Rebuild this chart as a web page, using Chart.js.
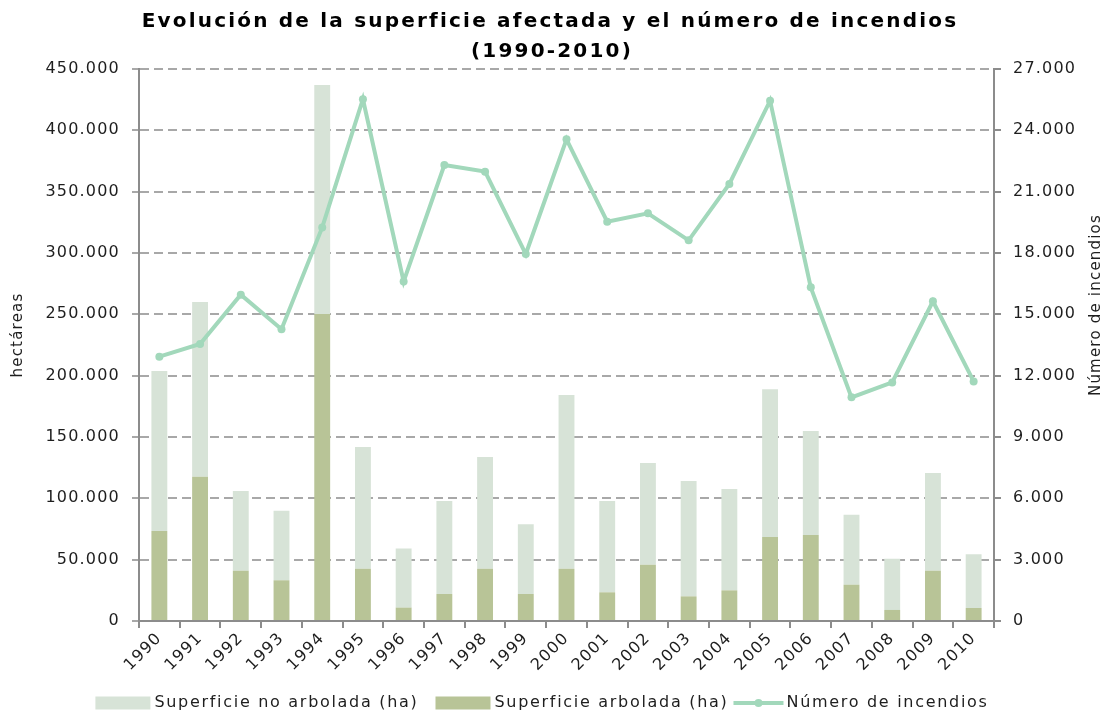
<!DOCTYPE html>
<html><head><meta charset="utf-8">
<script src="https://cdn.jsdelivr.net/npm/chart.js@4.4.1/dist/chart.umd.min.js"></script>
<style>html,body{margin:0;padding:0;background:#fff;}#wrap{width:1107px;height:715px;position:relative;}</style>
</head><body><div id="wrap"><canvas id="c"></canvas></div>
<script>
const titleLines = ['Evolución de la superficie afectada y el número de incendios', '(1990-2010)'];
const years = ['1990','1991','1992','1993','1994','1995','1996','1997','1998','1999','2000','2001','2002','2003','2004','2005','2006','2007','2008','2009','2010'];
const supArbolada = [73400,117600,41000,33200,250300,42600,10900,22000,42600,22000,42600,23400,45900,20100,25000,68500,70100,29600,9000,41000,10600];
const supNoArbolada = [130400,142400,65000,56700,186700,99200,48300,75800,91100,56800,141600,74400,82900,94000,82600,120400,84800,57100,41800,79600,43800];
const numIncendios = [12930,13550,15960,14270,19250,25520,16610,22300,21980,17950,23560,19530,19940,18620,21380,25450,16320,10940,11670,15640,11720];
const seriesLabels = {noArb:'Superficie no arbolada (ha)', arb:'Superficie arbolada (ha)', inc:'Número de incendios'};
const leftTitle = 'hectáreas';
const rightTitle = 'Número de incendios';

const C_NOARB = '#d7e3d7', C_ARB = '#b8c497', C_LINE = '#a2d8bb';
const FONT = '"DejaVu Sans", Verdana, sans-serif';
const TXT = '#1e1e1e';
const GRID = '#a8a8a8', AXIS = '#8c8c8c';
const fmt = v => String(v).replace(/\B(?=(\d{3})+(?!\d))/g, '.');

const spacingPlugin = {
  id: 'spacing',
  beforeUpdate(chart) { chart.ctx.letterSpacing = '1.2px'; },
  beforeDraw(chart) { chart.ctx.letterSpacing = '1.2px'; }
};

const textPlugin = {
  id: 'customText',
  afterDraw(chart) {
    const ctx = chart.ctx;
    const midY = (chart.chartArea.top + chart.chartArea.bottom) / 2;
    // title
    ctx.save();
    ctx.letterSpacing = '2.2px';
    ctx.font = 'bold 20px ' + FONT;
    ctx.fillStyle = '#000';
    ctx.textAlign = 'center';
    ctx.textBaseline = 'alphabetic';
    ctx.fillText(titleLines[0], 550, 27);
    ctx.fillText(titleLines[1], 552, 57);
    ctx.restore();
    // axis titles, reading upward
    ctx.save();
    ctx.letterSpacing = '1.2px';
    ctx.font = '15px ' + FONT;
    ctx.fillStyle = TXT;
    ctx.textAlign = 'center';
    ctx.textBaseline = 'middle';
    ctx.save();
    ctx.translate(18, midY - 10);
    ctx.rotate(-Math.PI / 2);
    ctx.fillText(leftTitle, 0, 0);
    ctx.restore();
    ctx.save();
    ctx.translate(1096, midY - 40);
    ctx.rotate(-Math.PI / 2);
    ctx.fillText(rightTitle, 0, 0);
    ctx.restore();
    ctx.restore();
    // legend
    ctx.save();
    ctx.letterSpacing = '1.7px';
    ctx.font = '16px ' + FONT;
    ctx.textBaseline = 'middle';
    const y = 703;
    const items = [
      {type:'box', color:C_NOARB, text:seriesLabels.noArb, gapAfter:17},
      {type:'box', color:C_ARB, text:seriesLabels.arb, gapAfter:5},
      {type:'line', color:C_LINE, text:seriesLabels.inc, gapAfter:0}
    ];
    const symW = {box:55, line:50}, symGap = {box:4, line:3};
    let total = 0;
    items.forEach(it => { it.w = ctx.measureText(it.text).width; total += symW[it.type] + symGap[it.type] + it.w + it.gapAfter; });
    let x = 542 - total / 2;
    items.forEach(it => {
      if (it.type === 'box') {
        ctx.fillStyle = it.color;
        ctx.fillRect(x, y - 6.5, 55, 13);
      } else {
        ctx.strokeStyle = it.color; ctx.lineWidth = 4;
        ctx.beginPath(); ctx.moveTo(x, y); ctx.lineTo(x + 50, y); ctx.stroke();
        ctx.fillStyle = it.color;
        ctx.beginPath(); ctx.arc(x + 25, y, 4, 0, Math.PI * 2); ctx.fill();
      }
      x += symW[it.type] + symGap[it.type];
      ctx.fillStyle = TXT;
      ctx.fillText(it.text, x, y);
      x += it.w + it.gapAfter;
    });
    ctx.restore();
  }
};

new Chart(document.getElementById('c'), {
  data: {
    labels: years,
    datasets: [
      {type:'line', label:seriesLabels.inc, data:numIncendios, yAxisID:'y1', order:0,
       borderColor:C_LINE, backgroundColor:C_LINE, borderWidth:4, pointRadius:4, pointBackgroundColor:C_LINE,
       pointBorderWidth:0, tension:0},
      {type:'bar', label:seriesLabels.arb, data:supArbolada, yAxisID:'y', order:1, backgroundColor:C_ARB,
       categoryPercentage:1, barPercentage:0.39, borderWidth:0},
      {type:'bar', label:seriesLabels.noArb, data:supNoArbolada, yAxisID:'y', order:1, backgroundColor:C_NOARB,
       categoryPercentage:1, barPercentage:0.39, borderWidth:0}
    ]
  },
  options: {
    responsive: true, maintainAspectRatio: false, animation: false,
    layout: {padding: {left:0, right:0, top:69, bottom:44}},
    plugins: {legend: {display:false}, tooltip: {enabled:false}, title: {display:false}},
    scales: {
      x: {
        stacked: true, offset: true,
        grid: {display:true, drawOnChartArea:false, drawTicks:true, tickLength:7, color:AXIS, lineWidth:2, offset:true},
        border: {display:true, color:AXIS, width:2},
        ticks: {color:TXT, font:{family:FONT, size:16}, minRotation:45, maxRotation:45, autoSkip:false, padding:1},
        afterFit: s => { s.height = 50; }
      },
      y: {
        stacked: true, position:'left', min:0, max:450000,
        ticks: {stepSize:50000, color:TXT, font:{family:FONT, size:16}, padding:12, callback: v => fmt(v)},
        grid: {color:GRID, lineWidth:2, tickLength:7, drawTicks:true},
        border: {display:true, color:AXIS, width:2, dash:[9,5]},
        afterFit: s => { s.width = 139; }
      },
      y1: {
        position:'right', min:0, max:27000,
        ticks: {stepSize:3000, color:TXT, font:{family:FONT, size:16}, padding:12, callback: v => fmt(v)},
        grid: {drawOnChartArea:false, color:AXIS, lineWidth:2, tickLength:7},
        border: {display:true, color:AXIS, width:2},
        afterFit: s => { s.width = 113; }
      }
    }
  },
  plugins: [spacingPlugin, textPlugin]
});
</script></body></html>
